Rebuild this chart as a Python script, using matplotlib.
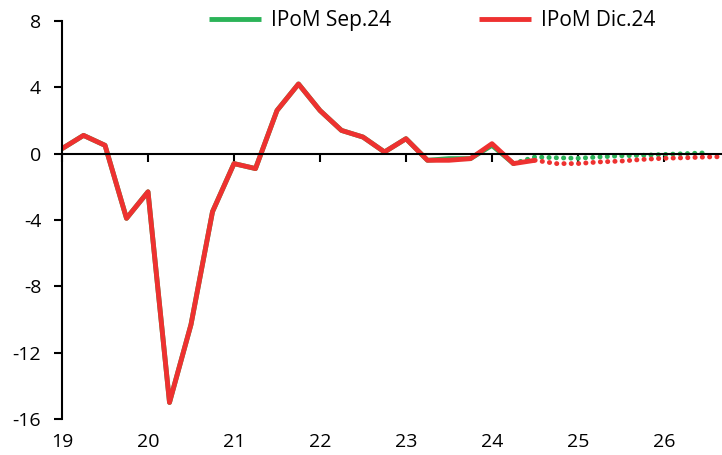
import matplotlib.pyplot as plt

plt.rcParams['font.family'] = ['Open Sans', 'DejaVu Sans']

# quarterly index 2019Q1 .. ; x = 2019 + k/4
hist_dic = [0.3, 1.1, 0.5, -3.9, -2.3, -15.0, -10.3, -3.5, -0.6, -0.9, 2.6, 4.2,
            2.6, 1.4, 1.0, 0.1, 0.9, -0.4, -0.4, -0.3, 0.6, -0.6, -0.4]
proj_dic = [-0.4, -0.6, -0.6, -0.5, -0.45, -0.35, -0.28, -0.25, -0.2, -0.18]
hist_sep = [0.3, 1.1, 0.5, -3.9, -2.3, -15.0, -10.3, -3.5, -0.6, -0.9, 2.6, 4.2,
            2.6, 1.4, 1.0, 0.1, 0.9, -0.4, -0.3, -0.3, 0.5, -0.6]
proj_sep = [-0.6, -0.2, -0.25, -0.28, -0.2, -0.13, -0.1, -0.05, 0.0, 0.05]
years = list(range(2019, 2027))
year_labels = [str(y - 2000) for y in years]
yticks = [-16, -12, -8, -4, 0, 4, 8]

green = '#2bb358'
red = '#ee3130'
dots = (0, (0.05, 1.45))

def qx(start, n):
    return [2019 + (start + i) / 4 for i in range(n)]

fig = plt.figure(figsize=(7.22, 4.55), dpi=100)
ax = fig.add_axes([0.0859, 0.079, 0.9141, 0.875])

ax.plot(qx(0, len(hist_sep)), hist_sep, color=green, lw=3.5, solid_capstyle='butt', label='IPoM Sep.24')
ax.plot(qx(len(hist_sep) - 1, len(proj_sep)), proj_sep, color=green, lw=3.5,
        linestyle=dots, dash_capstyle='round')
ax.plot(qx(0, len(hist_dic)), hist_dic, color=red, lw=3.5, solid_capstyle='butt', label='IPoM Dic.24')
ax.plot(qx(len(hist_dic) - 1, len(proj_dic)), proj_dic, color=red, lw=3.5,
        linestyle=dots, dash_capstyle='round')

ax.set_xlim(2019, 2019 + 30.7 / 4)
ax.set_ylim(-16, 8)

for s in ['top', 'right']:
    ax.spines[s].set_visible(False)
ax.spines['bottom'].set_position(('data', 0))
ax.spines['bottom'].set_linewidth(1.5)
ax.spines['left'].set_linewidth(1.5)

ax.set_yticks(yticks)
ax.set_yticklabels([str(v) for v in yticks])
ax.tick_params(axis='y', direction='out', length=6, width=1.5, labelsize=14, colors='black', pad=9)
ax.set_xticks(years)
ax.tick_params(axis='x', direction='out', length=6, width=1.5, labelbottom=False)

sec = ax.secondary_xaxis('bottom')
sec.set_xticks(years)
sec.set_xticklabels(year_labels)
sec.spines['bottom'].set_visible(False)
sec.tick_params(axis='x', length=0, labelsize=14, pad=10)

leg = ax.legend(loc='center', bbox_to_anchor=(0.5606, 1.0), ncol=2, frameon=False, fontsize=15,
                handlelength=2.5, handletextpad=0.5, columnspacing=4.2)
for h in leg.get_lines():
    h.set_linewidth(3.5)

fig.savefig('out.png', dpi=100)
